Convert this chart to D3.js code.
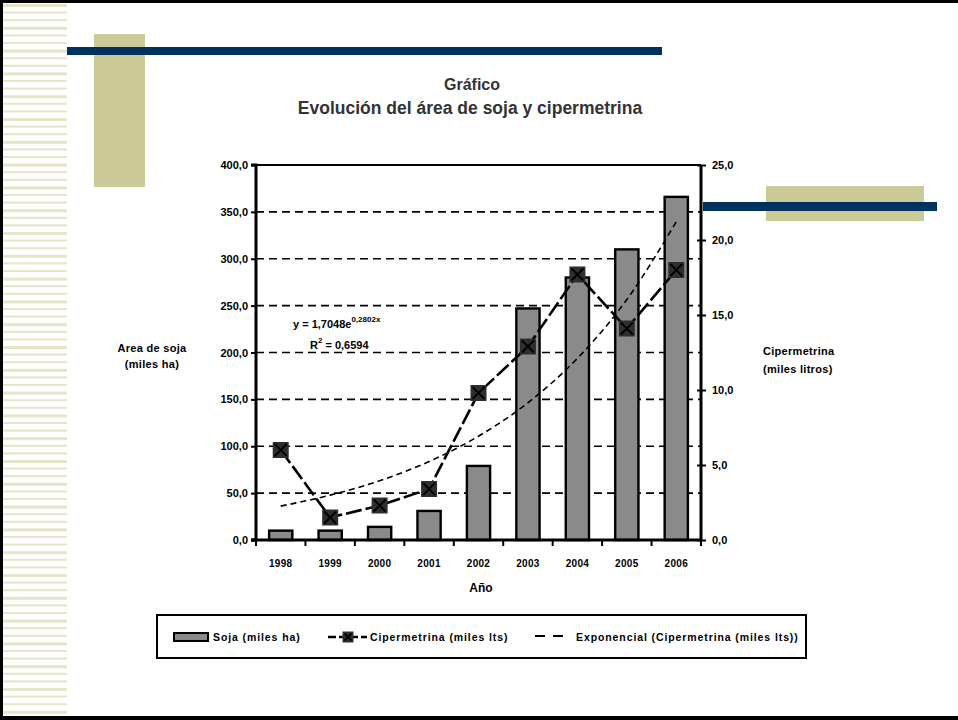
<!DOCTYPE html>
<html>
<head>
<meta charset="utf-8">
<script src="https://cdn.jsdelivr.net/npm/d3@7"></script>
<style>
  body { margin: 0; background: #fff; }
  svg { display: block; font-family: "Liberation Sans", Arial, sans-serif; }
  text { font-weight: bold; }
</style>
</head>
<body>
<svg id="chart" width="958" height="720"></svg>
<script>
// data
const years = ["1998", "1999", "2000", "2001", "2002", "2003", "2004", "2005", "2006"];
const sojaValues = [10, 10, 14, 31, 79, 247, 280, 310, 366];
const cipermetrinaValues = [6.0, 1.5, 2.3, 3.4, 9.8, 12.9, 17.7, 14.1, 18.0];
const trendValues = [2.26, 2.99, 3.95, 5.23, 6.92, 9.15, 12.11, 16.03, 21.22];
const leftTicks = [0, 50, 100, 150, 200, 250, 300, 350, 400];
const rightTicks = [0, 5, 10, 15, 20, 25];

const svg = d3.select("#chart");
const locale = d3.formatLocale({ decimal: ",", thousands: ".", grouping: [3], currency: ["", ""] });
const fmt = locale.format(".1f");

// Settings
const plot = { left: 256, right: 701, top: 165, bottom: 540 };
const beige = "#cccb98";
const navy = "#00325f";

// page decoration
svg.append("rect").attr("x", 0).attr("y", 0).attr("width", 958).attr("height", 720).attr("fill", "#fff");
svg.append("g").selectAll("rect")
    .data(d3.range(4, 714, 7.6))
    .join("rect")
    .attr("x", 3).attr("width", 64)
    .attr("y", d => d)
    .attr("height", (d, i) => (i % 3 === 0 ? 3 : 2))
    .attr("fill", "#e6e4c9");
svg.append("rect").attr("x", 94).attr("y", 34).attr("width", 51).attr("height", 153).attr("fill", beige);
svg.append("rect").attr("x", 67).attr("y", 47).attr("width", 595).attr("height", 8).attr("fill", navy);
svg.append("rect").attr("x", 766).attr("y", 186).attr("width", 158).attr("height", 35).attr("fill", beige);
svg.append("rect").attr("x", 0).attr("y", 0).attr("width", 958).attr("height", 3).attr("fill", "#000");
svg.append("rect").attr("x", 0).attr("y", 716).attr("width", 958).attr("height", 4).attr("fill", "#000");
svg.append("rect").attr("x", 0).attr("y", 0).attr("width", 3).attr("height", 720).attr("fill", "#000");

// title
svg.append("text").attr("x", 472).attr("y", 90).attr("text-anchor", "middle")
    .attr("font-size", 16).attr("fill", "#333").text("Gráfico");
svg.append("text").attr("x", 470).attr("y", 114).attr("text-anchor", "middle")
    .attr("font-size", 17.5).attr("fill", "#333").text("Evolución del área de soja y cipermetrina");

// scales
const x = d3.scaleBand().domain(years).range([plot.left, plot.right]).paddingInner(0.53).paddingOuter(0.265);
const xCat = d3.scaleBand().domain(years).range([plot.left, plot.right]);
const yLeft = d3.scaleLinear().domain([0, 400]).range([plot.bottom, plot.top]);
const yRight = d3.scaleLinear().domain([0, 25]).range([plot.bottom, plot.top]);

// gridlines
svg.append("g").selectAll("line")
    .data(leftTicks.filter(d => d > 0 && d < 400))
    .join("line")
    .attr("x1", plot.left).attr("x2", plot.right)
    .attr("y1", d => yLeft(d)).attr("y2", d => yLeft(d))
    .attr("stroke", "#000").attr("stroke-width", 1.6)
    .attr("stroke-dasharray", "8,5");
svg.append("line").attr("x1", plot.left).attr("x2", plot.right)
    .attr("y1", plot.top).attr("y2", plot.top)
    .attr("stroke", "#000").attr("stroke-width", 2);

// bars
svg.append("g").selectAll("rect")
    .data(years)
    .join("rect")
    .attr("x", d => x(d))
    .attr("width", x.bandwidth())
    .attr("y", (d, i) => yLeft(sojaValues[i]))
    .attr("height", (d, i) => yLeft(0) - yLeft(sojaValues[i]))
    .attr("fill", "#8a8a8a").attr("stroke", "#000").attr("stroke-width", 2.4);

// trend line
const trendLine = d3.line()
    .x((d, i) => xCat(years[i]) + xCat.bandwidth() / 2)
    .y(d => yRight(d))
    .curve(d3.curveMonotoneX);
svg.append("path").datum(trendValues)
    .attr("d", trendLine)
    .attr("fill", "none").attr("stroke", "#000").attr("stroke-width", 1.6)
    .attr("stroke-dasharray", "6,4");

// cipermetrina line
const ciperLine = d3.line()
    .x((d, i) => xCat(years[i]) + xCat.bandwidth() / 2)
    .y(d => yRight(d));
svg.append("path").datum(cipermetrinaValues)
    .attr("d", ciperLine)
    .attr("fill", "none").attr("stroke", "#000").attr("stroke-width", 2.6)
    .attr("stroke-dasharray", "16,4");

function drawMarker(g, size) {
    const h = size / 2;
    g.append("rect").attr("x", -h).attr("y", -h).attr("width", size).attr("height", size)
        .attr("fill", "#2e2e2e");
    g.append("path").attr("d", `M${-h + 2},${-h + 2}L${h - 2},${h - 2}M${h - 2},${-h + 2}L${-h + 2},${h - 2}`)
        .attr("stroke", "#000").attr("stroke-width", 1.8);
}
svg.append("g").selectAll("g")
    .data(cipermetrinaValues)
    .join("g")
    .attr("transform", (d, i) => `translate(${xCat(years[i]) + xCat.bandwidth() / 2},${yRight(d)})`)
    .each(function () { drawMarker(d3.select(this), 16); });

// axes
const leftAxis = d3.axisLeft(yLeft).tickValues(leftTicks).tickFormat(fmt).tickSize(5).tickPadding(3);
const gl = svg.append("g").attr("transform", `translate(${plot.left},0)`).call(leftAxis);
const rightAxis = d3.axisRight(yRight).tickValues(rightTicks).tickFormat(fmt).tickSize(5).tickPadding(6);
const gr = svg.append("g").attr("transform", `translate(${plot.right},0)`).call(rightAxis);
gr.selectAll(".tick line").attr("x1", -4);
const bottomAxis = d3.axisBottom(xCat).tickSize(0).tickPadding(20);
const gb = svg.append("g").attr("transform", `translate(0,${plot.bottom})`).call(bottomAxis);
gb.append("g").selectAll("line")
    .data(years.concat(["end"]))
    .join("line")
    .attr("x1", (d, i) => plot.left + i * xCat.step())
    .attr("x2", (d, i) => plot.left + i * xCat.step())
    .attr("y1", 0).attr("y2", 6)
    .attr("stroke", "#000").attr("stroke-width", 2);

[gl, gr, gb].forEach(g => {
    g.select(".domain").attr("stroke", "#000").attr("stroke-width", 3);
    g.selectAll(".tick line").attr("stroke", "#000").attr("stroke-width", 2);
    g.selectAll(".tick text").attr("fill", "#000").attr("font-size", 11)
        .attr("font-family", "Liberation Sans, Arial, sans-serif").attr("font-weight", "bold");
});
gl.select(".domain").attr("d", `M-5,${plot.top}H0V${plot.bottom}H-5`);
gr.select(".domain").attr("d", `M0,${plot.top}V${plot.bottom}`);
gb.select(".domain").attr("d", `M${plot.left - 5},0H${plot.right}`);
gb.selectAll(".tick text").attr("font-size", 10).attr("letter-spacing", 0.3);

// axis titles
svg.append("text").attr("x", 152).attr("y", 352).attr("text-anchor", "middle").attr("font-size", 11).attr("letter-spacing", 0.3).text("Area de soja");
svg.append("text").attr("x", 152).attr("y", 368).attr("text-anchor", "middle").attr("font-size", 11).attr("letter-spacing", 0.3).text("(miles ha)");
svg.append("text").attr("x", 763).attr("y", 355).attr("font-size", 11).attr("letter-spacing", 0.3).text("Cipermetrina");
svg.append("text").attr("x", 763).attr("y", 373).attr("font-size", 11).attr("letter-spacing", 0.3).text("(miles litros)");
svg.append("text").attr("x", 481).attr("y", 592).attr("text-anchor", "middle").attr("font-size", 12).text("Año");

// equation
const eq = svg.append("text").attr("x", 293).attr("y", 328).attr("font-size", 11);
eq.append("tspan").text("y = 1,7048e");
eq.append("tspan").attr("dy", -6).attr("font-size", 8).text("0,2802x");
const r2 = svg.append("text").attr("x", 310).attr("y", 349).attr("font-size", 11);
r2.append("tspan").text("R");
r2.append("tspan").attr("dy", -6).attr("font-size", 8).text("2");
r2.append("tspan").attr("dy", 6).text(" = 0,6594");

// legend
const lg = svg.append("g");
lg.append("rect").attr("x", 157).attr("y", 615).attr("width", 649).attr("height", 43)
    .attr("fill", "#fff").attr("stroke", "#000").attr("stroke-width", 2);
lg.append("rect").attr("x", 174).attr("y", 633).attr("width", 34).attr("height", 8)
    .attr("fill", "#8a8a8a").attr("stroke", "#000").attr("stroke-width", 2);
lg.append("text").attr("x", 213).attr("y", 641).attr("font-size", 10.5).attr("letter-spacing", 0.9).text("Soja (miles ha)");
lg.append("line").attr("x1", 328).attr("x2", 367).attr("y1", 637).attr("y2", 637)
    .attr("stroke", "#000").attr("stroke-width", 2.6).attr("stroke-dasharray", "8,3");
drawMarker(lg.append("g").attr("transform", "translate(348,637)"), 11);
lg.append("text").attr("x", 370).attr("y", 641).attr("font-size", 10.5).attr("letter-spacing", 0.9).text("Cipermetrina (miles lts)");
lg.append("line").attr("x1", 535).attr("x2", 566).attr("y1", 636).attr("y2", 636)
    .attr("stroke", "#000").attr("stroke-width", 2).attr("stroke-dasharray", "10,8");
lg.append("text").attr("x", 576).attr("y", 641).attr("font-size", 10.5).attr("letter-spacing", 0.9).text("Exponencial (Cipermetrina (miles lts))");

// right navy bar sits over the page
svg.append("rect").attr("x", 703).attr("y", 202).attr("width", 234).attr("height", 9).attr("fill", navy);
</script>
</body>
</html>
